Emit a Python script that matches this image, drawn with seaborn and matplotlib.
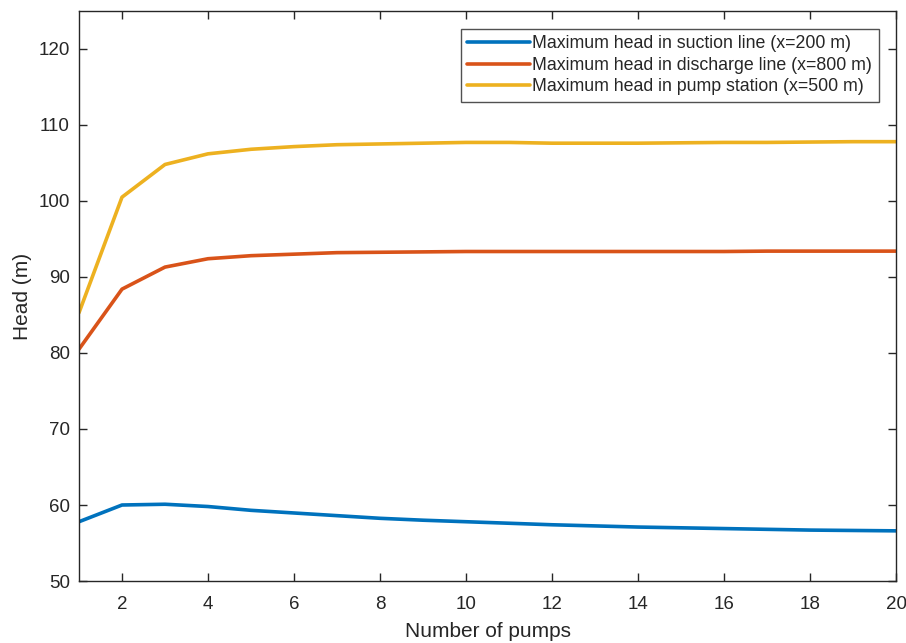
import numpy as np
import pandas as pd
import matplotlib
matplotlib.use("Agg")
import matplotlib.pyplot as plt
import seaborn as sns

pumps = list(range(1, 21))
suction = [57.8, 60.0, 60.1, 59.8, 59.3, 58.95, 58.6, 58.25, 58.0, 57.8,
           57.6, 57.4, 57.25, 57.1, 57.0, 56.9, 56.8, 56.7, 56.65, 56.6]
discharge = [80.5, 88.4, 91.3, 92.4, 92.8, 93.0, 93.2, 93.25, 93.3, 93.35,
             93.35, 93.35, 93.35, 93.35, 93.35, 93.35, 93.4, 93.4, 93.4, 93.4]
station = [85.3, 100.5, 104.8, 106.2, 106.8, 107.15, 107.4, 107.5, 107.6, 107.7,
           107.7, 107.6, 107.6, 107.6, 107.65, 107.7, 107.7, 107.75, 107.8, 107.8]
labels = ["Maximum head in suction line (x=200 m)",
          "Maximum head in discharge line (x=800 m)",
          "Maximum head in pump station (x=500 m)"]
colors = ["#0072BD", "#D95319", "#EDB120"]

df = pd.DataFrame({
    "pumps": pumps * 3,
    "head": suction + discharge + station,
    "series": [labels[0]] * 20 + [labels[1]] * 20 + [labels[2]] * 20,
})

sns.set_theme(style="white")
plt.rcParams["font.family"] = ["Liberation Sans", "DejaVu Sans"]

fig = plt.figure(figsize=(9.06, 6.43), dpi=100)
ax = fig.add_axes([0.0872, 0.0964, 0.9018, 0.8866])
sns.lineplot(data=df, x="pumps", y="head", hue="series", hue_order=labels,
             palette=colors, linewidth=2.6, ax=ax)

ax.set_xlim(1, 20)
ax.set_ylim(50, 125)
ax.set_xticks(range(2, 21, 2))
ax.set_yticks(range(50, 121, 10))
ax.set_xlabel("Number of pumps", fontsize=15, color="#262626", labelpad=6)
ax.set_ylabel("Head (m)", fontsize=15, color="#262626", labelpad=5)
ax.tick_params(direction="in", length=6, width=1, colors="#262626",
               labelsize=13.5, top=True, right=True, bottom=True, left=True)
ax.tick_params(axis="x", pad=11)
ax.tick_params(axis="y", pad=6.5)
for s in ax.spines.values():
    s.set_color("#262626")
    s.set_linewidth(1)

leg = ax.legend(loc="upper right", bbox_to_anchor=(0.979, 0.969), fontsize=12.8,
                frameon=True, fancybox=False, handlelength=3.5, handletextpad=0.15,
                labelspacing=0.25, borderpad=0.38, borderaxespad=0,
                edgecolor="#262626")
leg.get_frame().set_linewidth(1)
for t in leg.get_texts():
    t.set_color("#262626")

fig.savefig("out.png", dpi=100)
